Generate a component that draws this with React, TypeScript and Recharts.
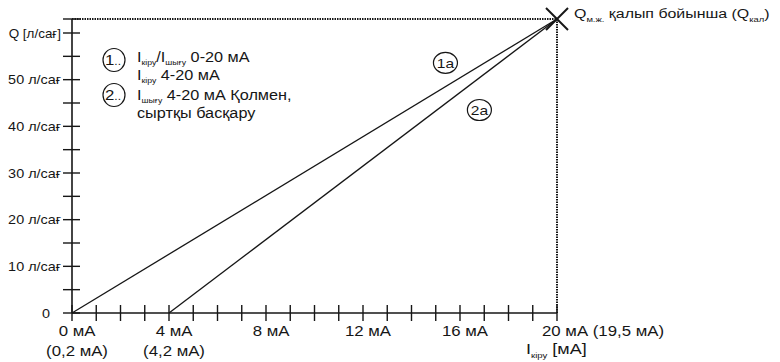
import React from 'react';
import { LineChart, Line, XAxis, YAxis, ReferenceLine, ReferenceDot } from 'recharts';

const FONT = '"Liberation Sans", Arial, Helvetica, sans-serif';
const INK = '#161616';
const SX = 1.2; // text in the source is stretched sideways a bit

// I_кіру in mA on x, Q in л/сағ on y
const I_MAX = 20;
const Q_MAX = 63;

const line1a = [{ i: 0, q: 0 }, { i: 20, q: 63 }];
const line2a = [{ i: 4, q: 0 }, { i: 20, q: 63 }];

const xTicks = [0, 1, 2, 3, 4, 5, 6, 7, 8, 9, 10, 11, 12, 13, 14, 15, 16, 17, 18, 19, 20];
const xMajor = [0, 4, 8, 12, 16, 20];
const xLabels = ['0 мА', '4 мА', '8 мА', '12 мА', '16 мА', '20 мА (19,5 мА)'];
const xSubLabels = ['(0,2 мА)', '(4,2 мА)', '', '', '', ''];

const yTicks = [0, 5, 10, 15, 20, 25, 30, 35, 40, 45, 50, 55, 60, 63];
const yMajor = [0, 10, 20, 30, 40, 50, 60];
const yLabels = ['0', '10 л/сағ', '20 л/сағ', '30 л/сағ', '40 л/сағ', '50 л/сағ', 'Q [л/сағ]'];

const tags = [
  { i: 15.4, q: 53.6, text: '1a' },
  { i: 16.8, q: 43.5, text: '2a' },
];

const T = ({ x, y, size = 14, anchor = 'start', sx = SX, children }: any) => (
  <g transform={`translate(${x},${y}) scale(${sx},1)`}>
    <text x={0} y={0} fontSize={size} textAnchor={anchor} fontFamily={FONT} fill={INK}>
      {children}
    </text>
  </g>
);

const XTick = ({ x, y, payload }: any) => {
  const k = xMajor.indexOf(payload.value);
  const last = payload.value === I_MAX;
  return (
    <g>
      <line x1={x} x2={x} y1={y - 8} y2={y + 8} stroke={INK} strokeWidth={1.4} />
      {k >= 0 && (
        <T x={last ? x - 15 : x + 5} y={y + 23} size={14} anchor={last ? 'start' : 'middle'}>
          {xLabels[k]}
        </T>
      )}
      {k >= 0 && xSubLabels[k] && (
        <T x={x + 5} y={y + 43} size={14} anchor="middle">
          {xSubLabels[k]}
        </T>
      )}
    </g>
  );
};

const YTick = ({ x, y, payload }: any) => {
  const k = yMajor.indexOf(payload.value);
  const v = payload.value;
  return (
    <g>
      <line x1={x - 9} x2={x + 8} y1={y} y2={y} stroke={INK} strokeWidth={1.4} />
      {k >= 0 && (
        <T x={v === 0 ? x - 22 : x - 11} y={y + 4.5} size={12} anchor="end" sx={v === 60 ? 1.12 : SX}>
          {yLabels[k]}
        </T>
      )}
    </g>
  );
};

const Cross = ({ cx, cy }: any) => (
  <g stroke={INK} strokeWidth={2}>
    <line x1={cx - 11} y1={cy - 11} x2={cx + 11} y2={cy + 11} />
    <line x1={cx - 11} y1={cy + 11} x2={cx + 11} y2={cy - 11} />
  </g>
);

const Tag = (text: string) => ({ cx, cy }: any) => (
  <g>
    <ellipse cx={cx} cy={cy} rx={12} ry={10.5} fill="#fff" stroke={INK} strokeWidth={1.2} />
    <T x={cx} y={cy + 5} size={13} anchor="middle">{text}</T>
  </g>
);

export default function App() {
  return (
    <div style={{ position: 'fixed', left: 0, top: 0, width: 780, height: 362, background: '#fff' }}>
      <LineChart width={780} height={362} margin={{ top: 19, right: 223, bottom: 0, left: 0 }}>
        <XAxis
          type="number"
          dataKey="i"
          domain={[0, I_MAX]}
          ticks={xTicks}
          interval={0}
          height={49}
          tickSize={0}
          tickMargin={0}
          tickLine={false}
          axisLine={{ stroke: INK, strokeWidth: 1.6 }}
          tick={(p: any) => <XTick {...p} />}
        />
        <YAxis
          type="number"
          dataKey="q"
          domain={[0, Q_MAX]}
          ticks={yTicks}
          interval={0}
          width={72}
          tickSize={0}
          tickMargin={0}
          tickLine={false}
          axisLine={{ stroke: INK, strokeWidth: 1.6 }}
          tick={(p: any) => <YTick {...p} />}
        />
        <ReferenceLine y={Q_MAX} stroke={INK} strokeWidth={2} strokeDasharray="1.5 1" />
        <ReferenceLine x={I_MAX} stroke={INK} strokeWidth={2} strokeDasharray="1.5 1" />
        <Line data={line1a} dataKey="q" type="linear" stroke={INK} strokeWidth={1.3} dot={false} isAnimationActive={false} />
        <Line data={line2a} dataKey="q" type="linear" stroke={INK} strokeWidth={1.3} dot={false} isAnimationActive={false} />
        <ReferenceDot x={I_MAX} y={Q_MAX} ifOverflow="visible" shape={(p: any) => <Cross {...p} />} />
        {tags.map((t) => (
          <ReferenceDot key={t.text} x={t.i} y={t.q} ifOverflow="visible" shape={Tag(t.text)} />
        ))}
      </LineChart>

      <svg width={780} height={362} style={{ position: 'absolute', left: 0, top: 0, pointerEvents: 'none' }}>
        {/* top-right note */}
        <T x={574} y={18} size={13.5} sx={1.18}>
          Q<tspan fontSize={8} dy={4}>м.ж.</tspan>
          <tspan dy={-4}> қалып бойынша (Q</tspan>
          <tspan fontSize={8} dy={4}>кал</tspan>
          <tspan dy={-4}>)</tspan>
        </T>

        {/* legend */}
        <ellipse cx={114} cy={60} rx={11} ry={11.5} fill="none" stroke={INK} strokeWidth={1.2} />
        <T x={113} y={65} size={14} anchor="middle">1<tspan fontSize={10}>..</tspan></T>
        <ellipse cx={114} cy={95} rx={11} ry={11.5} fill="none" stroke={INK} strokeWidth={1.2} />
        <T x={113} y={100} size={14} anchor="middle">2<tspan fontSize={10}>..</tspan></T>

        <T x={137} y={62} size={14} sx={1.16}>
          I<tspan fontSize={7.5} dy={3}>кіру</tspan>
          <tspan dy={-3}>/I</tspan>
          <tspan fontSize={7.5} dy={3}>шығу</tspan>
          <tspan dy={-3}> 0-20 мА</tspan>
        </T>
        <T x={137} y={80} size={14} sx={1.16}>
          I<tspan fontSize={7.5} dy={3}>кіру</tspan>
          <tspan dy={-3}> 4-20 мА</tspan>
        </T>
        <T x={137} y={100} size={14} sx={1.16}>
          I<tspan fontSize={7.5} dy={3}>шығу</tspan>
          <tspan dy={-3}> 4-20 мА Қолмен,</tspan>
        </T>
        <T x={137} y={118} size={14} sx={1.16}>сыртқы басқару</T>

        {/* x axis title */}
        <T x={526} y={354} size={15}>
          I<tspan fontSize={8} dy={4}>кіру</tspan>
          <tspan dy={-4}> [мА]</tspan>
        </T>
      </svg>
    </div>
  );
}
